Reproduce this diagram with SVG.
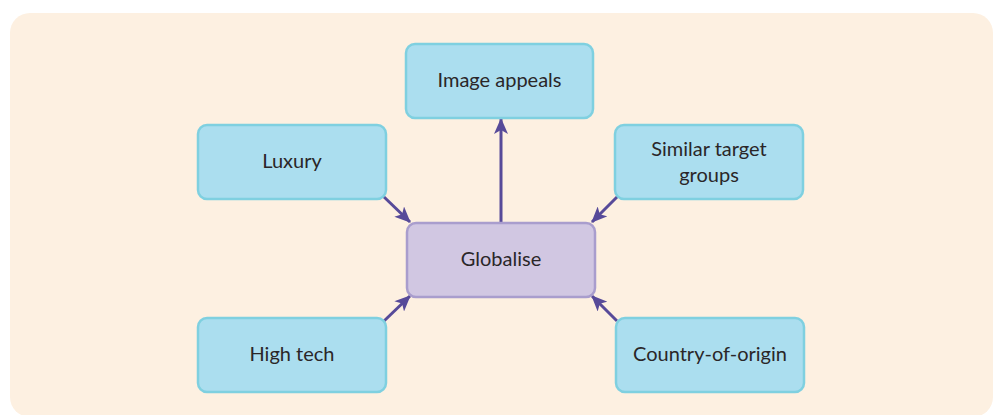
<svg xmlns="http://www.w3.org/2000/svg" width="994" height="415" viewBox="0 0 994 415">
<defs>
<style>
.node rect{fill:#abdeef;stroke:#7fd0e0;stroke-width:2.5}
#globalise rect{fill:#d1c7e2;stroke:#a99dcd}
.node text{font-family:Lato,"Open Sans","Liberation Sans",sans-serif;font-size:20px;font-weight:400;fill:#2a2628;text-anchor:middle}
.conn line{stroke:#574a99;stroke-width:3;marker-end:url(#ah)}
</style>
<marker id="ah" viewBox="0 0 16 14" refX="15" refY="7" markerWidth="16" markerHeight="14" markerUnits="userSpaceOnUse" orient="auto">
<path d="M0,0 L16,7 L0,14 L4,7 Z" fill="#574a99"/>
</marker>
</defs>
<rect x="10" y="13" width="983" height="404" rx="20" fill="#fdf0e1"/>
<g id="connectors" class="conn">
<line x1="501" y1="223" x2="501" y2="119"/>
<line x1="383" y1="196" x2="410" y2="222"/>
<line x1="618" y1="196" x2="592" y2="222"/>
<line x1="384" y1="321" x2="410" y2="296"/>
<line x1="617" y1="321" x2="592" y2="296"/>
</g>
<g id="image-appeals" class="node"><rect x="406" y="44" width="187" height="74" rx="9"/><text x="499.5" y="87">Image appeals</text></g>
<g id="luxury" class="node"><rect x="198" y="125" width="188" height="74" rx="9"/><text x="292" y="168">Luxury</text></g>
<g id="similar" class="node"><rect x="615" y="125" width="188" height="74" rx="9"/><text x="709" y="156">Similar target</text><text x="709" y="182">groups</text></g>
<g id="globalise" class="node"><rect x="407" y="223" width="188" height="74" rx="9"/><text x="501" y="266">Globalise</text></g>
<g id="high-tech" class="node"><rect x="198" y="318" width="188" height="74" rx="9"/><text x="292" y="361">High tech</text></g>
<g id="country" class="node"><rect x="616" y="318" width="188" height="74" rx="9"/><text x="710" y="361">Country-of-origin</text></g>
</svg>
